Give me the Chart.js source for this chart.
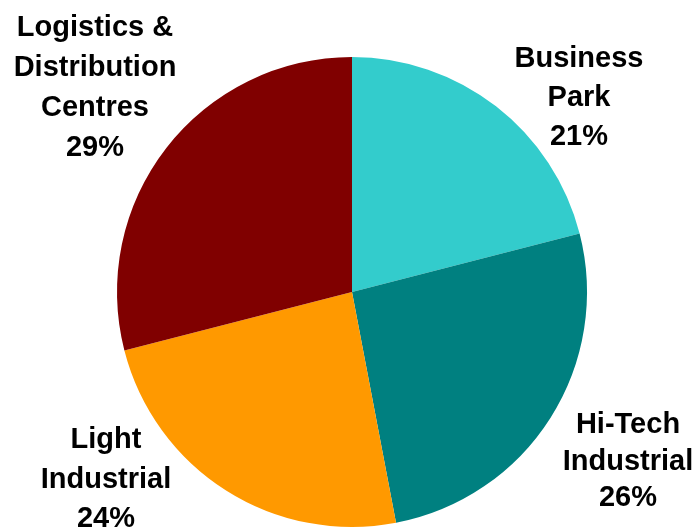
<!DOCTYPE html>
<html>
<head>
<meta charset="utf-8">
<script src="https://cdn.jsdelivr.net/npm/chart.js@4/dist/chart.umd.min.js"></script>
<style>
  html, body { margin: 0; padding: 0; background: #ffffff; }
  #wrap { width: 697px; height: 529px; position: relative; }
</style>
</head>
<body>
<div id="wrap"><canvas id="c" width="697" height="529"></canvas></div>
<script>
// ---- data ----
const categories = ['Business Park', 'Hi-Tech Industrial', 'Light Industrial', 'Logistics & Distribution Centres'];
const values = [21, 26, 24, 29];
const labelLines = [
  ['Business', 'Park'],
  ['Hi-Tech', 'Industrial'],
  ['Light', 'Industrial'],
  ['Logistics &', 'Distribution', 'Centres']
];
const colors = ['#33CCCC', '#008080', '#FF9900', '#800000'];

// label placement (first baseline offset from pie centre, in radius units) and line height
const labelLayout = [
  { dx: 227 / 235, dy: -225 / 235, lh: 39 },
  { dx: 276 / 235, dy: 141 / 235, lh: 36.5 },
  { dx: -246 / 235, dy: 156 / 235, lh: 39.5 },
  { dx: -257 / 235, dy: -256 / 235, lh: 40 }
];

const outsideLabels = {
  id: 'outsideLabels',
  afterDraw(chart) {
    const ctx = chart.ctx;
    const meta = chart.getDatasetMeta(0);
    const total = values.reduce((a, b) => a + b, 0);
    ctx.save();
    ctx.fillStyle = '#000000';
    ctx.font = 'bold 29px "Liberation Sans", Arial, sans-serif';
    ctx.textAlign = 'center';
    ctx.textBaseline = 'alphabetic';
    meta.data.forEach((arc, i) => {
      const r = arc.outerRadius;
      const L = labelLayout[i];
      const x = arc.x + L.dx * r;
      let y = arc.y + L.dy * r;
      const lines = labelLines[i].concat([Math.round(values[i] / total * 100) + '%']);
      lines.forEach((t, k) => {
        ctx.fillText(t, x, y + k * L.lh);
      });
    });
    ctx.restore();
  }
};

new Chart(document.getElementById('c'), {
  type: 'pie',
  data: {
    labels: categories,
    datasets: [{
      data: values,
      backgroundColor: colors,
      borderWidth: 0
    }]
  },
  options: {
    responsive: false,
    animation: false,
    layout: { padding: { top: 57, bottom: 2, left: 117, right: 110 } },
    plugins: {
      legend: { display: false },
      title: { display: false },
      tooltip: { enabled: false }
    }
  },
  plugins: [outsideLabels]
});
</script>
</body>
</html>
